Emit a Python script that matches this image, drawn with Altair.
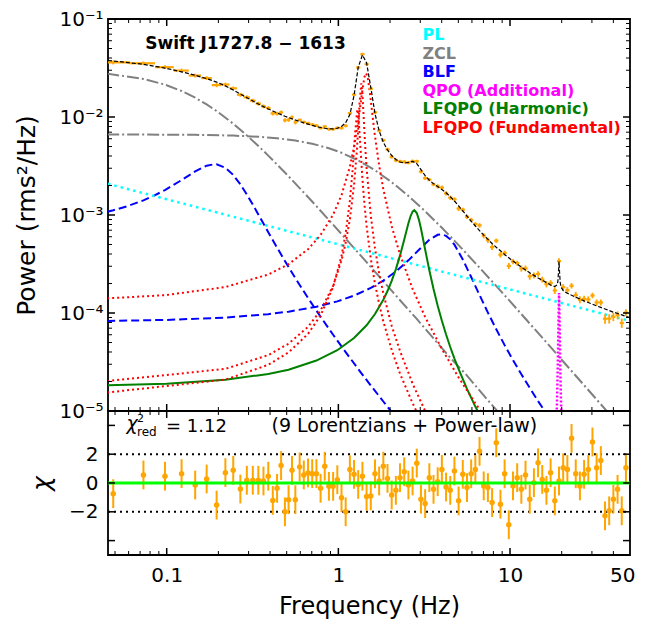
import altair as alt
import pandas as pd

FONT = "DejaVu Sans"
W, H1, H2 = 522, 392, 144

# ---------------- data ----------------
freq = [0.0488, 0.0732, 0.0977, 0.1221, 0.1465, 0.1709, 0.1953, 0.2197, 0.2441, 0.2686,
        0.2930, 0.3174, 0.3418, 0.3662, 0.3906, 0.4150, 0.4395, 0.4639, 0.4883, 0.5127,
        0.5371, 0.5615,
        0.595, 0.629, 0.666, 0.704, 0.745, 0.788, 0.833, 0.881, 0.932, 0.986,
        1.043, 1.103, 1.167, 1.234, 1.305, 1.381, 1.460, 1.545, 1.634, 1.728,
        1.828, 1.933, 2.045, 2.163, 2.287, 2.420, 2.559, 2.707, 2.863, 3.028,
        3.203, 3.388, 3.584, 3.790, 4.009, 4.241, 4.485, 4.744, 5.018, 5.307,
        5.614, 5.938, 6.281, 6.643, 7.027, 7.432, 7.861, 8.315, 8.795, 9.302,
        9.839, 10.41, 11.01, 11.64, 12.31, 13.03, 13.78, 14.57, 15.41, 16.30,
        17.24, 18.24, 19.29, 20.40, 21.58, 22.83, 24.15, 25.54, 27.01, 28.57,
        30.22, 31.96, 33.81, 35.76, 37.82, 40.01, 42.32, 44.76, 47.35]

model_power = [3.731e-2, 3.447e-2, 3.157e-2, 2.892e-2, 2.664e-2, 2.464e-2, 2.272e-2, 2.077e-2, 1.888e-2, 1.718e-2,
               1.575e-2, 1.456e-2, 1.358e-2, 1.276e-2, 1.209e-2, 1.151e-2, 1.101e-2, 1.058e-2, 1.019e-2, 9.876e-3,
               9.578e-3, 9.312e-3,
               8.993e-3, 8.711e-3, 8.445e-3, 8.21e-3, 7.999e-3, 7.819e-3, 7.678e-3, 7.586e-3, 7.57e-3, 7.675e-3,
               7.993e-3, 8.745e-3, 1.059e-2, 1.657e-2, 3.213e-2, 4.303e-2, 3.578e-2, 2.01e-2, 1.087e-2, 7.223e-3,
               5.529e-3, 4.613e-3, 4.047e-3, 3.686e-3, 3.471e-3, 3.385e-3, 3.438e-3, 3.525e-3, 3.345e-3, 2.904e-3,
               2.522e-3, 2.264e-3, 2.087e-3, 1.951e-3, 1.82e-3, 1.686e-3, 1.54e-3, 1.389e-3, 1.238e-3, 1.099e-3,
               9.75e-4, 8.65e-4, 7.72e-4, 6.92e-4, 6.23e-4, 5.64e-4, 5.12e-4, 4.68e-4, 4.31e-4, 3.95e-4,
               3.66e-4, 3.39e-4, 3.16e-4, 2.94e-4, 2.75e-4, 2.57e-4, 2.42e-4, 2.28e-4, 2.16e-4, 2.04e-4,
               1.93e-4, 1.86e-4, 3.35e-4, 1.69e-4, 1.59e-4, 1.52e-4, 1.45e-4, 1.39e-4, 1.33e-4, 1.28e-4,
               1.23e-4, 1.18e-4, 1.14e-4, 1.10e-4, 1.06e-4, 1.02e-4, 9.89e-5, 9.57e-5, 9.24e-5]

chi = [-0.74, 0.56, 0.47, 0.65, -0.14, 0.28, -1.53, 0.72, 0.88, -0.42,
       0.19, 0.19, 0.19, 0.14, 0.47, -1.21, -0.37, 1.21, -2.0, -1.16,
       0.88, -1.16,
       1.12, 0.56, 0.70, 0.65, 0.65, -0.37, 1.16, -0.23, -0.23, 0.23,
       -1.02, -2.0, 0.93, 0.6, -0.1, 0.47, -0.93, -0.9, 0.64, 0.14,
       1.17, 0.32, -0.83, -0.51, 0.37, 0.78, -0.14, 0.14, 1.38, -1.13,
       -1.43, 0.37, -0.44, 0.09, 0.94, -0.28, -0.51, 0.83, -1.24, 0.6,
       -0.32, 0.64, 0.94, 2.2, -0.2, -0.32, -1.36, 2.8, -1.47, 0.64,
       -2.9, -0.2, 0.37, -0.44, 0.55, -1.13, 0.02, 1.4, 0.25, -0.51,
       0.71, -1.24, 0.14, 1.06, 0.94, 3.1, 0.64, -0.2, 0.6, 0.94,
       2.85, 1.06, 1.56, -2.28, -1.93, -1.13, -0.44, -1.93, 1.06]

rel_err = [0.045, 0.045, 0.045, 0.045, 0.045, 0.045, 0.045, 0.045, 0.045, 0.045,
           0.045, 0.045, 0.045, 0.045, 0.045, 0.045, 0.045, 0.045, 0.045, 0.045,
           0.045, 0.045,
           0.035, 0.035, 0.035, 0.035, 0.035, 0.035, 0.035, 0.035, 0.035, 0.035,
           0.035, 0.035, 0.035, 0.035, 0.035, 0.035, 0.035, 0.035, 0.04, 0.04,
           0.04, 0.04, 0.04, 0.04, 0.04, 0.04, 0.04, 0.04, 0.04, 0.04,
           0.04, 0.04, 0.04, 0.05, 0.05, 0.05, 0.05, 0.05, 0.05, 0.05,
           0.05, 0.05, 0.05, 0.06, 0.06, 0.06, 0.06, 0.06, 0.06, 0.06,
           0.06, 0.06, 0.06, 0.07, 0.07, 0.07, 0.07, 0.07, 0.07, 0.07,
           0.07, 0.07, 0.07, 0.08, 0.08, 0.08, 0.08, 0.08, 0.08, 0.08,
           0.08, 0.08, 0.08, 0.09, 0.09, 0.09, 0.09, 0.09, 0.09]

model_extra_freq = [0.0455, 18.8, 19.0, 19.15, 19.45, 19.6, 19.8, 50.0]
model_extra_power = [3.77e-2, 1.93e-4, 2.10e-4, 2.57e-4, 2.55e-4, 2.06e-4, 1.85e-4, 8.95e-5]

# model components
pl_f = [0.0455, 50.0]
pl_p = [2.08e-3, 8.3e-5]

zcl1_f = [0.045, 0.0732, 0.0977, 0.1221, 0.1465, 0.1709, 0.1953, 0.2441, 0.293, 0.3418, 0.3906, 0.4883,
          0.595, 0.745, 0.932, 1.167, 1.46, 1.828, 2.287, 2.863, 3.584, 4.485, 5.614, 7.027, 8.795, 11.01]
zcl1_p = [2.764e-2, 2.447e-2, 2.139e-2, 1.842e-2, 1.575e-2, 1.344e-2, 1.150e-2, 8.541e-3, 6.494e-3, 5.062e-3,
          4.036e-3, 2.714e-3, 1.883e-3, 1.23e-3, 7.97e-4, 5.13e-4, 3.3e-4, 2.11e-4, 1.35e-4, 8.7e-5, 5.5e-5,
          3.5e-5, 2.3e-5, 1.44e-5, 9.2e-6, 5.9e-6]

zcl2_f = [0.045, 0.1465, 0.2441, 0.3418, 0.4395, 0.5615, 0.704, 0.881, 1.043, 1.305, 1.634, 2.045, 2.559,
          3.203, 4.009, 5.018, 6.281, 7.861, 9.839, 12.31, 15.41, 19.29, 24.15, 30.22, 37.82, 47.35, 50.0]
zcl2_p = [6.643e-3, 6.58e-3, 6.459e-3, 6.286e-3, 6.069e-3, 5.751e-3, 5.338e-3, 4.802e-3, 4.319e-3, 3.605e-3,
          2.862e-3, 2.163e-3, 1.566e-3, 1.092e-3, 7.41e-4, 4.93e-4, 3.23e-4, 2.10e-4, 1.36e-4, 8.73e-5,
          5.6e-5, 3.58e-5, 2.29e-5, 1.465e-5, 9.36e-6, 5.98e-6, 5.36e-6]

blf1_f = [0.045, 0.0488, 0.06, 0.0732, 0.085, 0.0977, 0.1221, 0.1465, 0.1709, 0.19, 0.1953, 0.2197, 0.2441,
          0.2686, 0.293, 0.3174, 0.3418, 0.3906, 0.4395, 0.4883, 0.5615, 0.666, 0.788, 0.932, 1.103, 1.305,
          1.545, 1.828, 2.163]
blf1_p = [1.078e-3, 1.117e-3, 1.242e-3, 1.412e-3, 1.586e-3, 1.798e-3, 2.273e-3, 2.784e-3, 3.186e-3, 3.3e-3,
          3.291e-3, 3.037e-3, 2.564e-3, 2.055e-3, 1.618e-3, 1.274e-3, 1.013e-3, 6.67e-4, 4.65e-4, 3.39e-4,
          2.27e-4, 1.42e-4, 9.15e-5, 6.0e-5, 3.99e-5, 2.68e-5, 1.82e-5, 1.25e-5, 8.6e-6]

blf2_f = [0.045, 0.1, 0.2197, 0.3906, 0.5127, 0.745, 0.986, 1.234, 1.545, 1.828, 2.163, 2.559, 3.028, 3.388,
          3.79, 4.009, 4.241, 4.485, 4.744, 5.307, 5.938, 6.643, 7.432, 8.315, 9.302, 10.41, 11.64, 13.03,
          14.57, 16.3]
blf2_p = [8.30e-5, 8.5e-5, 8.98e-5, 9.73e-5, 1.032e-4, 1.159e-4, 1.314e-4, 1.505e-4, 1.802e-4, 2.142e-4,
          2.654e-4, 3.444e-4, 4.632e-4, 5.581e-4, 6.28e-4, 6.34e-4, 6.124e-4, 5.645e-4, 4.98e-4, 3.521e-4,
          2.331e-4, 1.525e-4, 1.01e-4, 6.82e-5, 4.7e-5, 3.31e-5, 2.37e-5, 1.72e-5, 1.26e-5, 9.4e-6]

qpo_f = [18.0, 18.6, 18.8, 19.0, 19.15, 19.3, 19.45, 19.6, 19.8, 20.0, 20.6]
qpo_p = [2.1e-6, 7.0e-6, 1.32e-5, 3.2e-5, 8.0e-5, 1.6e-4, 8.0e-5, 3.2e-5, 1.32e-5, 7.0e-6, 2.1e-6]

harm_f = [0.045, 0.1, 0.2197, 0.3906, 0.5127, 0.745, 0.986, 1.234, 1.46, 1.634, 1.828, 1.933, 2.045, 2.163,
          2.287, 2.42, 2.559, 2.63, 2.707, 2.77, 2.863, 2.95, 3.028, 3.203, 3.388, 3.584, 3.79, 4.009, 4.241,
          4.485, 4.744, 5.018, 5.614, 6.281, 7.027]
harm_p = [1.83e-5, 1.9e-5, 2.08e-5, 2.39e-5, 2.64e-5, 3.27e-5, 4.17e-5, 5.56e-5, 7.5e-5, 9.76e-5, 1.365e-4,
          1.675e-4, 2.127e-4, 2.806e-4, 3.871e-4, 5.617e-4, 8.227e-4, 9.66e-4, 1.085e-3, 1.12e-3, 1.047e-3,
          8.87e-4, 7.271e-4, 4.441e-4, 2.732e-4, 1.756e-4, 1.186e-4, 8.32e-5, 6.03e-5, 4.5e-5, 3.43e-5,
          2.67e-5, 1.68e-5, 1.11e-5, 7.6e-6]

fund1_f = [0.045, 0.0977, 0.2197, 0.3906, 0.5127, 0.666, 0.788, 0.932, 1.043, 1.167, 1.234, 1.305, 1.35,
           1.381, 1.42, 1.45, 1.48, 1.52, 1.545, 1.6, 1.634, 1.728, 1.828, 2.045, 2.287, 2.707, 3.203, 4.009,
           5.018, 6.281, 7.432]
fund1_p = [1.41e-4, 1.52e-4, 1.84e-4, 2.47e-4, 3.15e-4, 4.48e-4, 6.25e-4, 1.006e-3, 1.594e-3, 3.108e-3,
           4.942e-3, 9.025e-3, 1.4e-2, 1.897e-2, 2.569e-2, 2.8e-2, 2.569e-2, 1.879e-2, 1.472e-2, 8.62e-3,
           6.384e-3, 3.208e-3, 1.831e-3, 7.69e-4, 3.94e-4, 1.76e-4, 9.1e-5, 4.3e-5, 2.2e-5, 1.2e-5, 7.8e-6]

fund2_f = [0.045, 0.2197, 0.3906, 0.5127, 0.666, 0.788, 0.932, 1.043, 1.103, 1.167, 1.234, 1.28, 1.305,
           1.33, 1.36, 1.381, 1.40, 1.43, 1.46, 1.545, 1.634, 1.728, 1.828, 2.045, 2.287, 2.707, 3.203, 3.584]
fund2_p = [2.02e-5, 2.69e-5, 3.72e-5, 4.86e-5, 7.23e-5, 1.063e-4, 1.89e-4, 3.45e-4, 5.2e-4, 9.06e-4,
           2.015e-3, 4.4e-3, 7.61e-3, 1.408e-2, 2.2e-2, 1.725e-2, 1.1e-2, 5.42e-3, 3.03e-3, 9.83e-4,
           4.59e-4, 2.55e-4, 1.58e-4, 7.4e-5, 4.1e-5, 1.9e-5, 1.0e-5, 7.1e-6]

fund3_f = [0.045, 0.2197, 0.3906, 0.5127, 0.666, 0.788, 0.932, 1.043, 1.103, 1.167, 1.21, 1.25, 1.29, 1.305,
           1.33, 1.381, 1.42, 1.46, 1.545, 1.634, 1.728, 1.828, 2.045, 2.287, 2.707, 3.028]
fund3_p = [1.545e-5, 2.09e-5, 2.96e-5, 3.96e-5, 6.13e-5, 9.44e-5, 1.842e-4, 3.806e-4, 6.49e-4, 1.4e-3,
           2.855e-3, 6.663e-3, 1.2e-2, 1.0785e-2, 6.663e-3, 2.333e-3, 1.269e-3, 7.76e-4, 3.58e-4, 1.99e-4,
           1.24e-4, 8.2e-5, 4.2e-5, 2.4e-5, 1.2e-5, 8e-6]

legend_labels = ["PL", "ZCL", "BLF", "QPO (Additional)", "LFQPO (Harmonic)", "LFQPO (Fundamental)"]
legend_colors = ["#00ffff", "#808080", "#0000ff", "#ff00ff", "#008000", "#ff0000"]

x_tick_labels = [0.1, 1, 10, 50]
x_major = [0.1, 1, 10]
x_minor = [0.05, 0.06, 0.07, 0.08, 0.09, 0.2, 0.3, 0.4, 0.5, 0.6, 0.7, 0.8, 0.9,
           2, 3, 4, 5, 6, 7, 8, 9, 20, 30, 40]
y_major = [1e-5, 1e-4, 1e-3, 1e-2, 1e-1]
y_minor = [2e-5, 3e-5, 4e-5, 5e-5, 6e-5, 7e-5, 8e-5, 9e-5,
           2e-4, 3e-4, 4e-4, 5e-4, 6e-4, 7e-4, 8e-4, 9e-4,
           2e-3, 3e-3, 4e-3, 5e-3, 6e-3, 7e-3, 8e-3, 9e-3,
           2e-2, 3e-2, 4e-2, 5e-2, 6e-2, 7e-2, 8e-2, 9e-2]
chi_ticks = [-4, -2, 0, 2, 4]
chi_labels = [-2, 0, 2]
chi_guides = [-2, 2]

# ---------------- tables ----------------
df = pd.DataFrame({"f": freq, "model": model_power, "chi": chi, "rel": rel_err})
df["err"] = df["model"] * df["rel"]
df["p"] = df["model"] + df["chi"] * df["err"]
df["p_lo"] = df["p"] - df["err"]
df["p_hi"] = df["p"] + df["err"]
mids = [(a + b) / 2 for a, b in zip(freq[:-1], freq[1:])]
df["f_lo"] = [freq[0] - (freq[1] - freq[0]) / 2] + mids
df["f_hi"] = mids + [freq[-1] + (freq[-1] - freq[-2]) / 2]
df["chi_lo"] = df["chi"] - 1
df["chi_hi"] = df["chi"] + 1

model_df = pd.concat([
    pd.DataFrame({"f": freq, "p": model_power}),
    pd.DataFrame({"f": model_extra_freq, "p": model_extra_power}),
]).sort_values("f").reset_index(drop=True)

comps = [("pl", "pl", pl_f, pl_p), ("zcl", "z1", zcl1_f, zcl1_p), ("zcl", "z2", zcl2_f, zcl2_p),
         ("blf", "b1", blf1_f, blf1_p), ("blf", "b2", blf2_f, blf2_p), ("qpo", "q", qpo_f, qpo_p),
         ("harm", "h", harm_f, harm_p), ("fund", "r1", fund1_f, fund1_p),
         ("fund", "r2", fund2_f, fund2_p), ("fund", "r3", fund3_f, fund3_p)]
rows = []
for kind, name, fs, ps in comps:
    for a, b in zip(fs, ps):
        rows.append({"kind": kind, "name": name, "f": a, "p": b})
comp_df = pd.DataFrame(rows)

# ---------------- scales / axes ----------------
xscale = alt.Scale(type="log", domain=[0.0455, 50], nice=False)
yscale_top = alt.Scale(type="log", domain=[1e-5, 0.1], nice=False)
yscale_bot = alt.Scale(domain=[-5, 5], nice=False, zero=False)

top_y_axis = alt.Axis(values=y_major, ticks=False, domain=False, grid=False,
                      labelExpr="'10' + ['\u207b\u2075','\u207b\u2074','\u207b\u00b3','\u207b\u00b2','\u207b\u00b9'][round(log(datum.value)/LN10) + 5]",
                      labelFontSize=20, labelPadding=5, labelOverlap=False,
                      title="Power (rms\u00b2/Hz)", titleFontSize=25, titlePadding=19)
bot_x_axis = alt.Axis(values=x_tick_labels, format="~g", ticks=False, domain=False, grid=False,
                      labelFlush=True, labelFlushOffset=5, labelOverlap=False, labelFontSize=20,
                      labelPadding=10, title="Frequency (Hz)", titleFontSize=24, titlePadding=9)
bot_y_axis = alt.Axis(values=chi_labels, ticks=False, domain=False, grid=False,
                      labelFontSize=20, labelPadding=10, labelOverlap=False,
                      title="\u03c7", titleFontSize=25, titleFontStyle="italic", titlePadding=14)


def TX(field):
    return alt.X(f"{field}:Q", scale=xscale, axis=None)


def TY(field):
    return alt.Y(f"{field}:Q", scale=yscale_top, axis=top_y_axis)


def BX(field):
    return alt.X(f"{field}:Q", scale=xscale, axis=bot_x_axis)


def BY(field):
    return alt.Y(f"{field}:Q", scale=yscale_bot, axis=bot_y_axis)


def comp_layer(kind, color, dash, width):
    mk = dict(color=color, strokeWidth=width, clip=True)
    if dash:
        mk["strokeDash"] = dash
    return alt.Chart(comp_df).transform_filter(alt.datum.kind == kind).mark_line(**mk).encode(
        x=TX("f"), y=TY("p"), detail="name:N")


def x_ticks(values, length, sw, height, X):
    d = pd.DataFrame({"v": values})
    bot = alt.Chart(d).mark_rule(color="black", strokeWidth=sw).encode(
        x=X("v"), y=alt.value(height), y2=alt.value(height - length))
    top = alt.Chart(d).mark_rule(color="black", strokeWidth=sw).encode(
        x=X("v"), y=alt.value(0), y2=alt.value(length))
    return [bot, top]


def y_ticks(values, length, sw, Y):
    d = pd.DataFrame({"v": values})
    left = alt.Chart(d).mark_rule(color="black", strokeWidth=sw).encode(
        y=Y("v"), x=alt.value(0), x2=alt.value(length))
    right = alt.Chart(d).mark_rule(color="black", strokeWidth=sw).encode(
        y=Y("v"), x=alt.value(W), x2=alt.value(W - length))
    return [left, right]


def label(text, x, y, size, color="black", weight="normal", style="normal", align="left"):
    return alt.Chart(pd.DataFrame({"t": [text]})).mark_text(
        align=align, baseline="alphabetic", font=FONT, fontSize=size, fontWeight=weight,
        fontStyle=style, color=color).encode(x=alt.value(x), y=alt.value(y), text="t:N")


# ---------------- top panel ----------------
top_layers = [
    comp_layer("zcl", "#808080", [12, 3, 2, 3], 2),
    comp_layer("blf", "#0000ff", [8, 4], 2),
    comp_layer("pl", "#00ffff", [2.5, 4], 2.5),
    comp_layer("harm", "#008000", None, 2),
    comp_layer("fund", "#ff0000", [2, 3], 2),
    comp_layer("qpo", "#ff00ff", [2, 2], 2.5),
    alt.Chart(df).mark_rule(color="orange", strokeWidth=2.2, clip=True).encode(
        x=TX("f_lo"), x2=alt.X2("f_hi"), y=TY("p")),
    alt.Chart(df).mark_rule(color="orange", strokeWidth=1.8, clip=True).encode(
        x=TX("f"), y=TY("p_lo"), y2=alt.Y2("p_hi")),
    alt.Chart(model_df).mark_line(color="black", strokeDash=[4, 2], strokeWidth=1.2, clip=True).encode(
        x=TX("f"), y=TY("p")),
]
top_layers += x_ticks(x_major, 7, 1.5, H1, TX) + x_ticks(x_minor, 4, 1, H1, TX)
top_layers += y_ticks(y_major, 7, 1.5, TY) + y_ticks(y_minor, 4, 1, TY)
top_layers.append(label("Swift J1727.8 \u2212 1613", 137.5, 30, 17, weight="bold", align="center"))
for i, (lab, col) in enumerate(zip(legend_labels, legend_colors)):
    top_layers.append(label(lab, 314.5, 21 + 18.6 * i, 16, color=col, weight="bold"))

top = alt.layer(*top_layers).properties(width=W, height=H1)

# ---------------- bottom panel ----------------
guides = pd.DataFrame({"v": chi_guides})
zero = pd.DataFrame({"v": [0]})
bot_layers = [
    alt.Chart(guides).mark_rule(color="black", strokeDash=[2, 4], strokeWidth=2).encode(
        y=BY("v"), x=alt.value(0), x2=alt.value(W)),
    alt.Chart(df).mark_rule(color="orange", strokeWidth=2, clip=True).encode(
        x=BX("f"), y=BY("chi_lo"), y2=alt.Y2("chi_hi")),
    alt.Chart(df).mark_circle(color="orange", size=30, opacity=1, clip=True).encode(
        x=BX("f"), y=BY("chi")),
    alt.Chart(zero).mark_rule(color="#00ff00", strokeWidth=3).encode(
        y=BY("v"), x=alt.value(0), x2=alt.value(W)),
]
bot_layers += x_ticks(x_major, 7, 1.5, H2, BX) + x_ticks(x_minor, 4, 1, H2, BX)
bot_layers += y_ticks(chi_ticks, 7, 1.5, BY)
bot_layers += [
    label("\u03c7", 18.5, 19, 19, style="italic"),
    label("2", 29, 11, 11),
    label("red", 29, 25, 12),
    label("= 1.12", 58, 20.5, 18),
    label("(9 Lorentzians + Power-law)", 163.5, 20.5, 19),
]
bottom = alt.layer(*bot_layers).properties(width=W, height=H2)

chart = alt.vconcat(top, bottom, spacing=0, bounds="flush").properties(
    padding={"left": 6, "top": 0, "right": 0, "bottom": 0}
).configure(font=FONT).configure_view(stroke="black", strokeWidth=1.8).configure_axis(
    labelFont=FONT, titleFont=FONT, labelColor="black", titleColor="black", titleFontWeight="normal")

chart.save("out.html", embed_options={"renderer": "svg", "actions": False})
